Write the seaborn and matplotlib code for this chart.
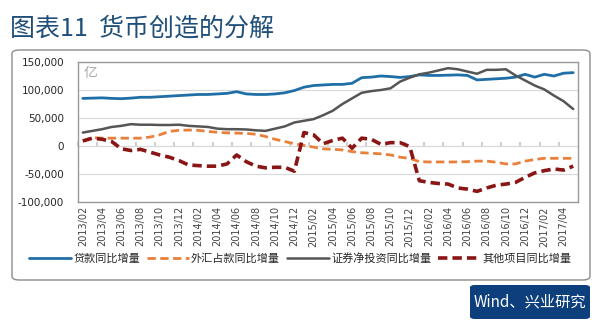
import numpy as np
import pandas as pd
import matplotlib
matplotlib.use("Agg")
import matplotlib.pyplot as plt
import seaborn as sns
from matplotlib.patches import FancyBboxPatch

months = [f"{y}/{m:02d}" for y in range(2013, 2018) for m in range(1, 13)]
months = months[months.index("2013/02"):months.index("2017/05") + 1]

loans = [85, 85.5, 86, 85, 84.5, 85.5, 87, 87, 88, 89, 90, 91, 92, 92, 93, 94, 97, 93, 92, 92,
         93, 95, 99, 105, 108, 109, 110, 110, 112, 122, 123, 125, 124, 122.5, 124, 127, 126, 126,
         126.5, 127, 126, 118, 119, 120, 121, 123, 128, 123, 128, 125, 130, 131]
securities = [24, 27, 30, 34, 36, 39, 38, 38, 37.5, 37.5, 38, 36, 35, 34, 31, 30, 30, 29.5, 28, 27,
              31, 35, 42, 45, 48, 55, 63, 75, 85, 95, 98, 100, 103, 115, 122, 128, 131, 135, 139,
              137, 133, 129, 136, 136, 137, 126, 117, 108, 101, 90, 80, 66]
fx = [9, 15, 14, 14, 14, 14, 14, 16, 20, 26, 28, 28.5, 28, 26, 24.5, 23.5, 23, 22.5, 21, 17,
      12, 8, 4, 1, -2, -5, -6, -7, -10, -12, -13, -14, -16, -20, -22, -28, -28.5, -28.5, -28.5,
      -28.5, -28, -27, -27, -29, -32, -32, -27, -24, -22, -22, -22, -22]
other = [9, 14, 12, 8, -5, -8, -6, -11, -16, -20, -26, -34, -35, -36, -36, -32, -16, -28, -36, -39,
         -38, -38, -45, 24, 20, 4, 10, 14, -4, 14, 12, 3, 6, 6, -1, -62, -65, -67, -68, -75, -77,
         -81, -75, -70, -68, -65, -56, -48, -44, -41, -43, -36]

series_names = ["贷款同比增量", "外汇占款同比增量", "证券净投资同比增量", "其他项目同比增量"]
series_vals = [loans, fx, securities, other]
colors = ["#1f6fa6", "#e8803c", "#555555", "#8a1515"]
styles = ["-", (0, (3, 1.6)), "-", (0, (2.6, 1.4))]
widths = [2.0, 2.0, 1.8, 2.6]

yticks = [150000, 100000, 50000, 0, -50000, -100000]
ytick_labels = ["150,000", "100,000", "50,000", "0", "-50,000", "-100,000"]

sns.set_theme(style="white")
plt.rcParams['font.family'] = ['Noto Sans CJK SC', 'DejaVu Sans']

fig = plt.figure(figsize=(6.0, 3.23), dpi=100)

# outer rounded frame
frame = FancyBboxPatch((12/600, 1-280/323), 578/600, 230/323,
                       boxstyle="round,pad=0,rounding_size=0.012",
                       transform=fig.transFigure, facecolor="white",
                       edgecolor="#8c8c8c", linewidth=1.0, zorder=-5)
fig.patches.append(frame)

ax = fig.add_axes([78/600, 1-202/323, 500/600, 140/323])
ax.set_zorder(2)
ax.patch.set_alpha(0)
x = np.arange(len(months))
for name, vals, c, ls, lw in zip(series_names, series_vals, colors, styles, widths):
    df = pd.DataFrame({"x": x, "v": np.array(vals) * 1000})
    sns.lineplot(data=df, x="x", y="v", ax=ax, color=c, linestyle=ls, linewidth=lw,
                 label=name, legend=False)

ax.set_xlim(-0.5, len(months) - 0.5)
ax.set_ylim(-100000, 150000)
ax.set_yticks(yticks)
ax.set_yticklabels(ytick_labels, fontsize=7.5, family=['DejaVu Sans'])
ax.set_xticks(x[::2])
ax.set_xticklabels(months[::2], rotation=90, fontsize=7, color="#444444", family=['DejaVu Sans'])
ax.tick_params(axis='x', length=0, pad=3)
ax.tick_params(axis='y', length=0, pad=10)
ax.set_xlabel("")
ax.set_ylabel("")
ax.grid(axis='y', color="#d9d9d9", linewidth=0.8)
ax.set_axisbelow(True)
for s in ax.spines.values():
    s.set_color("#9a9a9a")
    s.set_linewidth(1.0)

# category axis crossing at zero with small tick marks
sec = ax.secondary_xaxis(0.4)
sec.set_xticks(x[::2] - 0.5)
sec.tick_params(axis='x', direction='in', length=3, color="#c8c8c8", labelbottom=False,
                labeltop=False, bottom=True, top=False)
sec.spines['bottom'].set_color("#d0d0d0")
sec.spines['bottom'].set_linewidth(0.8)

ax.text(0.012, 0.97, "亿", transform=ax.transAxes, fontsize=10, color="#aaaaaa",
        va="top", ha="left", fontweight="light")

handles, labels = ax.get_legend_handles_labels()
fig.legend(handles, labels, loc="center", bbox_to_anchor=(0.5, 1-258/323), ncol=4,
           frameon=False, fontsize=8, handlelength=3.8, columnspacing=0.6, handletextpad=0.2)

fig.text(10/600, 1-29/323, "图表11  货币创造的分解", fontsize=18, color="#1f4e79",
         va="center", ha="left", fontweight="medium")

box = FancyBboxPatch((470/600, 4/323), 120/600, 34/323,
                     boxstyle="round,pad=0,rounding_size=0.008",
                     transform=fig.transFigure, facecolor="#0d3f7d", edgecolor="none")
fig.patches.append(box)
fig.text(530/600, 21/323, "Wind、兴业研究", fontsize=11, color="white", ha="center", va="center")

fig.savefig("out.png", dpi=100, facecolor="white")
